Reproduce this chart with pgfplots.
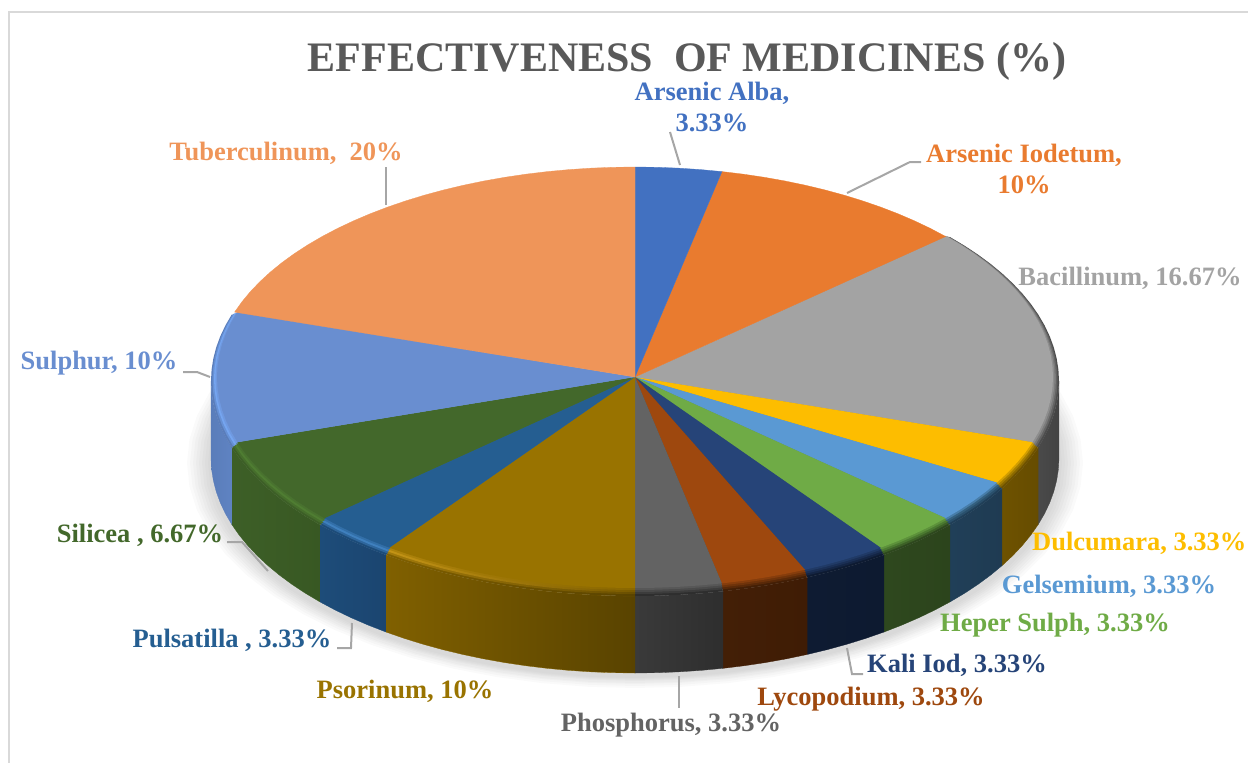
\documentclass[border=0pt]{standalone}
\usepackage{pgfplots}
\usepackage{pgfplotstable}
\usepackage{fontspec}
\pgfplotsset{compat=1.18}
\setmainfont{Liberation Serif}
% top-face wedges: t = angle clockwise from 12 o'clock, r = 0 hub / 1 rim
\pgfplotstableread[row sep=\\]{t r\\0 0\\0 1\\3 1\\6 1\\9 1\\12 1\\0 0\\}\tAlb
\pgfplotstableread[row sep=\\]{t r\\0 0\\12 1\\15 1\\18 1\\21 1\\24 1\\27 1\\30 1\\33 1\\36 1\\39 1\\42 1\\45 1\\48 1\\0 0\\}\tIod
\pgfplotstableread[row sep=\\]{t r\\0 0\\48 1\\51 1\\54 1\\57 1\\60 1\\63 1\\66 1\\69 1\\72 1\\75 1\\78 1\\81 1\\84 1\\87 1\\90 1\\93 1\\96 1\\99 1\\102 1\\105 1\\108 1\\0 0\\}\tBac
\pgfplotstableread[row sep=\\]{t r\\0 0\\108 1\\111 1\\114 1\\117 1\\120 1\\0 0\\}\tDul
\pgfplotstableread[row sep=\\]{t r\\0 0\\120 1\\123 1\\126 1\\129 1\\132 1\\0 0\\}\tGel
\pgfplotstableread[row sep=\\]{t r\\0 0\\132 1\\135 1\\138 1\\141 1\\144 1\\0 0\\}\tHep
\pgfplotstableread[row sep=\\]{t r\\0 0\\144 1\\147 1\\150 1\\153 1\\156 1\\0 0\\}\tKal
\pgfplotstableread[row sep=\\]{t r\\0 0\\156 1\\159 1\\162 1\\165 1\\168 1\\0 0\\}\tLyc
\pgfplotstableread[row sep=\\]{t r\\0 0\\168 1\\171 1\\174 1\\177 1\\180 1\\0 0\\}\tPho
\pgfplotstableread[row sep=\\]{t r\\0 0\\180 1\\183 1\\186 1\\189 1\\192 1\\195 1\\198 1\\201 1\\204 1\\207 1\\210 1\\213 1\\216 1\\0 0\\}\tPso
\pgfplotstableread[row sep=\\]{t r\\0 0\\216 1\\219 1\\222 1\\225 1\\228 1\\0 0\\}\tPul
\pgfplotstableread[row sep=\\]{t r\\0 0\\228 1\\231 1\\234 1\\237 1\\240 1\\243 1\\246 1\\249 1\\252 1\\0 0\\}\tSil
\pgfplotstableread[row sep=\\]{t r\\0 0\\252 1\\255 1\\258 1\\261 1\\264 1\\267 1\\270 1\\273 1\\276 1\\279 1\\282 1\\285 1\\288 1\\0 0\\}\tSul
\pgfplotstableread[row sep=\\]{t r\\0 0\\288 1\\291 1\\294 1\\297 1\\300 1\\303 1\\306 1\\309 1\\312 1\\315 1\\318 1\\321 1\\324 1\\327 1\\330 1\\333 1\\336 1\\339 1\\342 1\\345 1\\348 1\\351 1\\354 1\\357 1\\360 1\\0 0\\}\tTub
% side walls: z = 0 upper edge / 1 lower edge
\pgfplotstableread[row sep=\\]{t z\\90 0\\93 0\\96 0\\99 0\\102 0\\105 0\\108 0\\108 1\\105 1\\102 1\\99 1\\96 1\\93 1\\90 1\\}\wBac
\pgfplotstableread[row sep=\\]{t z\\108 0\\111 0\\114 0\\117 0\\120 0\\120 1\\117 1\\114 1\\111 1\\108 1\\}\wDul
\pgfplotstableread[row sep=\\]{t z\\120 0\\123 0\\126 0\\129 0\\132 0\\132 1\\129 1\\126 1\\123 1\\120 1\\}\wGel
\pgfplotstableread[row sep=\\]{t z\\132 0\\135 0\\138 0\\141 0\\144 0\\144 1\\141 1\\138 1\\135 1\\132 1\\}\wHep
\pgfplotstableread[row sep=\\]{t z\\144 0\\147 0\\150 0\\153 0\\156 0\\156 1\\153 1\\150 1\\147 1\\144 1\\}\wKal
\pgfplotstableread[row sep=\\]{t z\\156 0\\159 0\\162 0\\165 0\\168 0\\168 1\\165 1\\162 1\\159 1\\156 1\\}\wLyc
\pgfplotstableread[row sep=\\]{t z\\168 0\\171 0\\174 0\\177 0\\180 0\\180 1\\177 1\\174 1\\171 1\\168 1\\}\wPho
\pgfplotstableread[row sep=\\]{t z\\180 0\\183 0\\186 0\\189 0\\192 0\\195 0\\198 0\\201 0\\204 0\\207 0\\210 0\\213 0\\216 0\\216 1\\213 1\\210 1\\207 1\\204 1\\201 1\\198 1\\195 1\\192 1\\189 1\\186 1\\183 1\\180 1\\}\wPso
\pgfplotstableread[row sep=\\]{t z\\216 0\\219 0\\222 0\\225 0\\228 0\\228 1\\225 1\\222 1\\219 1\\216 1\\}\wPul
\pgfplotstableread[row sep=\\]{t z\\228 0\\231 0\\234 0\\237 0\\240 0\\243 0\\246 0\\249 0\\252 0\\252 1\\249 1\\246 1\\243 1\\240 1\\237 1\\234 1\\231 1\\228 1\\}\wSil
\pgfplotstableread[row sep=\\]{t z\\252 0\\255 0\\258 0\\261 0\\264 0\\267 0\\270 0\\270 1\\267 1\\264 1\\261 1\\258 1\\255 1\\252 1\\}\wSul
% soft shadow outline
\pgfplotstableread[row sep=\\]{t r\\60 1\\66 1\\72 1\\78 1\\84 1\\90 1\\96 1\\102 1\\108 1\\114 1\\120 1\\126 1\\132 1\\138 1\\144 1\\150 1\\156 1\\162 1\\168 1\\174 1\\180 1\\186 1\\192 1\\198 1\\204 1\\210 1\\216 1\\222 1\\228 1\\234 1\\240 1\\246 1\\252 1\\258 1\\264 1\\270 1\\276 1\\282 1\\288 1\\294 1\\300 1\\}\tSha
\definecolor{cAlb}{HTML}{4271C1}\definecolor{cIod}{HTML}{E97B2F}\definecolor{cBac}{HTML}{A3A3A3}
\definecolor{cDul}{HTML}{FDBD00}\definecolor{cGel}{HTML}{5A99D3}\definecolor{cHep}{HTML}{6FAB46}
\definecolor{cKal}{HTML}{264478}\definecolor{cLyc}{HTML}{9E480E}\definecolor{cPho}{HTML}{636363}
\definecolor{cPso}{HTML}{997300}\definecolor{cPul}{HTML}{255E91}\definecolor{cSil}{HTML}{43682B}
\definecolor{cSul}{HTML}{698ED0}\definecolor{cTub}{HTML}{EF9559}
\definecolor{leader}{HTML}{A6A6A6}\definecolor{frame}{HTML}{D9D9D9}\definecolor{ttl}{HTML}{595959}
% wall colours, left and right
\definecolor{wBacL}{HTML}{4A4A4A}\definecolor{wBacR}{HTML}{434343}
\definecolor{wDulL}{HTML}{6E5200}\definecolor{wDulR}{HTML}{664C00}
\definecolor{wGelL}{HTML}{203F58}\definecolor{wGelR}{HTML}{1F3B52}
\definecolor{wHepL}{HTML}{2E481E}\definecolor{wHepR}{HTML}{2C441C}
\definecolor{wKalL}{HTML}{0E1B32}\definecolor{wKalR}{HTML}{0D1A30}
\definecolor{wLycL}{HTML}{431F06}\definecolor{wLycR}{HTML}{3F1C05}
\definecolor{wPhoL}{HTML}{3A3A3A}\definecolor{wPhoR}{HTML}{2E2E2E}
\definecolor{wPsoL}{HTML}{806000}\definecolor{wPsoR}{HTML}{594300}
\definecolor{wPulL}{HTML}{1D4C79}\definecolor{wPulR}{HTML}{1B4570}
\definecolor{wSilL}{HTML}{3D5F27}\definecolor{wSilR}{HTML}{385823}
\definecolor{wSulL}{HTML}{5A7DBA}\definecolor{wSulR}{HTML}{5F83C2}
% bevel colours: o = outer edge, m = middle of the bevel
\definecolor{oBac}{HTML}{4D4D4D}\definecolor{mBac}{HTML}{7A7A7A}
\colorlet{oDul}{wDulL}\definecolor{mDul}{HTML}{A88000}
\colorlet{oGel}{wGelL}\definecolor{mGel}{HTML}{34607F}
\colorlet{oHep}{wHepL}\definecolor{mHep}{HTML}{4B7A30}
\colorlet{oKal}{wKalL}\definecolor{mKal}{HTML}{1A2F55}
\colorlet{oLyc}{wLycL}\definecolor{mLyc}{HTML}{6F330A}
\colorlet{oPho}{wPhoR}\definecolor{mPho}{HTML}{4A4A4A}
\colorlet{oPsoL}{wPsoL}\colorlet{oPsoR}{wPsoR}
\definecolor{mPsoL}{HTML}{C49416}\definecolor{mPsoR}{HTML}{7A5B00}
\colorlet{cPsoL}{cPso}\colorlet{cPsoR}{cPso}
\colorlet{oPul}{wPulL}\definecolor{mPul}{HTML}{3F80BE}
\colorlet{oSil}{wSilL}\definecolor{mSil}{HTML}{4F7D32}
\colorlet{oSul}{wSulL}\definecolor{mSul}{HTML}{75A5F0}
% table, a, b, centre y, style
\newcommand{\face}[5]{\addplot[#5] table[x expr={635+#2*\thisrow{r}*sin(\thisrow{t})},y expr={#4-#3*\thisrow{r}*cos(\thisrow{t})}] {#1};}
\newcommand{\wall}[3]{\addplot[left color=#2,right color=#3,draw=#2,line width=0.3pt] table[x expr={635+424*sin(\thisrow{t})},y expr={381-215*cos(\thisrow{t})+77*\thisrow{z}}] {#1};}
% a, b, yc, colour letter 1, percent, colour letter 2
\newcommand{\Lay}[6]{%
\face{\tBac}{#1}{#2}{#3}{fill=#4Bac!#5!#6Bac,draw=none}
\face{\tDul}{#1}{#2}{#3}{fill=#4Dul!#5!#6Dul,draw=none}
\face{\tGel}{#1}{#2}{#3}{fill=#4Gel!#5!#6Gel,draw=none}
\face{\tHep}{#1}{#2}{#3}{fill=#4Hep!#5!#6Hep,draw=none}
\face{\tKal}{#1}{#2}{#3}{fill=#4Kal!#5!#6Kal,draw=none}
\face{\tLyc}{#1}{#2}{#3}{fill=#4Lyc!#5!#6Lyc,draw=none}
\face{\tPho}{#1}{#2}{#3}{fill=#4Pho!#5!#6Pho,draw=none}
\face{\tPso}{#1}{#2}{#3}{left color=#4PsoL!#5!#6PsoL,right color=#4PsoR!#5!#6PsoR,draw=none}
\face{\tPul}{#1}{#2}{#3}{fill=#4Pul!#5!#6Pul,draw=none}
\face{\tSil}{#1}{#2}{#3}{fill=#4Sil!#5!#6Sil,draw=none}
\face{\tSul}{#1}{#2}{#3}{fill=#4Sul!#5!#6Sul,draw=none}
}
\newcommand{\lab}[4]{\node[text=#1,font=\fontsize{26.5}{31}\selectfont\bfseries,align=center,#4] at (axis cs:#2) {#3};}
\begin{document}
\begin{tikzpicture}
\path[use as bounding box] (0,0) rectangle (1248pt,763pt);
\begin{axis}[at={(0,0)},anchor=south west,scale only axis,width=1248pt,height=763pt,
  xmin=0,xmax=1248,ymin=0,ymax=763,y dir=reverse,hide axis,clip=false]
% frame
\addplot[frame,line width=2pt] coordinates {(9,763) (9,12) (1248,12)};
% shadow
\face{\tSha}{448}{225}{463}{fill=black,draw=none,opacity=.018}
\face{\tSha}{445}{223}{463}{fill=black,draw=none,opacity=.018}
\face{\tSha}{442}{221}{463}{fill=black,draw=none,opacity=.018}
\face{\tSha}{439}{220}{463}{fill=black,draw=none,opacity=.018}
\face{\tSha}{436}{218}{463}{fill=black,draw=none,opacity=.018}
\face{\tSha}{433}{217}{463}{fill=black,draw=none,opacity=.018}
\face{\tSha}{430}{216}{463}{fill=black,draw=none,opacity=.018}
\face{\tSha}{427}{215}{463}{fill=black,draw=none,opacity=.018}
% walls
\wall{\wBac}{wBacL}{wBacR}
\wall{\wDul}{wDulL}{wDulR}
\wall{\wGel}{wGelL}{wGelR}
\wall{\wHep}{wHepL}{wHepR}
\wall{\wKal}{wKalL}{wKalR}
\wall{\wLyc}{wLycL}{wLycR}
\wall{\wPho}{wPhoL}{wPhoR}
\wall{\wPso}{wPsoL}{wPsoR}
\wall{\wPul}{wPulL}{wPulR}
\wall{\wSil}{wSilL}{wSilR}
\wall{\wSul}{wSulL}{wSulR}
% bevel, from the outer edge inwards
\Lay{424}{215}{381}{m}{0}{o}
\Lay{422.5}{214}{380}{m}{50}{o}
\Lay{421}{213}{379}{m}{100}{o}
\Lay{419.5}{212}{378}{c}{50}{m}
\Lay{418}{211}{377}{c}{100}{m}
% back slices, no visible bevel
\face{\tIod}{418}{210}{377}{fill=cIod,draw=cIod,line width=0.3pt}
\face{\tAlb}{418}{210}{377}{fill=cAlb,draw=cAlb,line width=0.3pt}
\face{\tTub}{421}{210}{377}{fill=cTub,draw=cTub,line width=0.3pt}
% leader lines
\addplot[leader,line width=2pt] coordinates {(680,165) (670,132)};
\addplot[leader,line width=2pt] coordinates {(847,193) (910,162) (921,162)};
\addplot[leader,line width=2pt] coordinates {(385.5,205) (385.5,167)};
\addplot[leader,line width=2pt] coordinates {(183,372) (197,372) (210,377)};
\addplot[leader,line width=2pt] coordinates {(227,542) (242,542) (268,571)};
\addplot[leader,line width=2pt] coordinates {(337,648) (351,648) (352,623)};
\addplot[leader,line width=2pt] coordinates {(679,676) (679,708)};
\addplot[leader,line width=2pt] coordinates {(847,648) (852,674) (863,674)};
% texts
\node[text=ttl,font=\fontsize{42}{46}\selectfont\bfseries] at (axis cs:687,61) {EFFECTIVENESS\ \ OF MEDICINES (\%)};
\lab{cAlb}{712,107}{Arsenic Alba,\\3.33\%}{}
\lab{cIod}{1024,169}{Arsenic Iodetum,\\10\%}{}
\lab{cBac}{1130,278}{Bacillinum, 16.67\%}{}
\lab{cDul}{1032,543}{Dulcumara, 3.33\%}{anchor=west,inner sep=0pt}
\lab{cGel}{1109,586}{Gelsemium, 3.33\%}{}
\lab{cHep}{1055,625}{Heper Sulph, 3.33\%}{}
\lab{cKal}{957,665}{Kali Iod, 3.33\%}{}
\lab{cLyc}{871,699}{Lycopodium, 3.33\%}{}
\lab{cPho}{671,725}{Phosphorus, 3.33\%}{}
\lab{cPso}{405,691}{Psorinum, 10\%}{}
\lab{cPul}{232,640}{Pulsatilla , 3.33\%}{}
\lab{cSil}{140,535}{Silicea , 6.67\%}{}
\lab{cSul}{99,363}{Sulphur, 10\%}{}
\lab{cTub}{286,153}{Tuberculinum,\ \ 20\%}{}
\end{axis}
\end{tikzpicture}
\end{document}
